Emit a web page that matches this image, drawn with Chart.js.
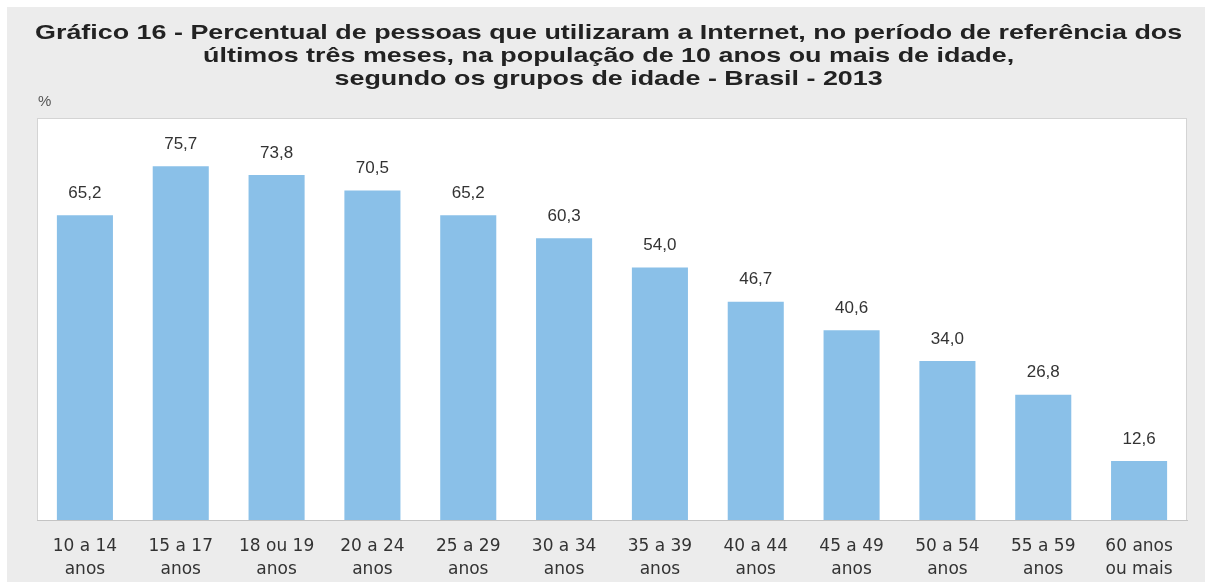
<!DOCTYPE html>
<html>
<head>
<meta charset="utf-8">
<script src="https://cdn.jsdelivr.net/npm/chart.js@4/dist/chart.umd.min.js"></script>
<style>
  html, body { margin:0; padding:0; background:#ffffff; }
  #wrap { position:relative; width:1214px; height:582px; overflow:hidden; }
  #c { position:absolute; left:0; top:0; }
  #title { position:absolute; left:12px; top:20px; width:1200px; text-align:center;
    font-family:"Liberation Sans", Arial, sans-serif; font-weight:bold; font-size:21px;
    line-height:23px; color:#222222; transform:scaleX(1.28); transform-origin:612px 0; }
  #title div { white-space:nowrap; }
  #unit { position:absolute; left:38px; top:92px; font-family:"Liberation Sans", Arial, sans-serif;
    font-size:15px; color:#555; }
</style>
</head>
<body>
<div id="wrap">
  <canvas id="c" width="1214" height="582"></canvas>
  <div id="title"><div>Gráfico 16 - Percentual de pessoas que utilizaram a Internet, no período de referência dos</div><div>últimos três meses, na população de 10 anos ou mais de idade,</div><div>segundo os grupos de idade - Brasil - 2013</div></div>
  <div id="unit">%</div>
</div>
<script>
const categories = [
  ["10 a 14","anos"], ["15 a 17","anos"], ["18 ou 19","anos"], ["20 a 24","anos"],
  ["25 a 29","anos"], ["30 a 34","anos"], ["35 a 39","anos"], ["40 a 44","anos"],
  ["45 a 49","anos"], ["50 a 54","anos"], ["55 a 59","anos"], ["60 anos","ou mais"]
];
const values = [65.2, 75.7, 73.8, 70.5, 65.2, 60.3, 54.0, 46.7, 40.6, 34.0, 26.8, 12.6];

const panelPlugin = {
  id: 'panel',
  beforeDraw(chart) {
    const ctx = chart.ctx, a = chart.chartArea;
    ctx.save();
    ctx.fillStyle = '#ffffff';
    ctx.fillRect(0, 0, chart.width, chart.height);
    ctx.fillStyle = '#ececec';
    ctx.fillRect(7, 7, 1198, chart.height - 7);
    ctx.fillStyle = '#ffffff';
    ctx.fillRect(a.left, a.top, a.right - a.left, a.bottom - a.top);
    ctx.strokeStyle = '#d4d4d4';
    ctx.lineWidth = 1;
    ctx.strokeRect(a.left + 0.5, a.top + 0.5, a.right - a.left - 1, a.bottom - a.top);
    ctx.restore();
  }
};

const labelPlugin = {
  id: 'valueLabels',
  afterDatasetsDraw(chart) {
    const ctx = chart.ctx;
    const meta = chart.getDatasetMeta(0);
    ctx.save();
    ctx.font = '17px "Liberation Sans", Arial, sans-serif';
    ctx.fillStyle = '#333333';
    ctx.textAlign = 'center';
    ctx.textBaseline = 'middle';
    meta.data.forEach((bar, i) => {
      const v = chart.data.datasets[0].data[i];
      ctx.fillText(v.toFixed(1).replace('.', ','), bar.x, bar.y - 22);
    });
    ctx.restore();
  }
};

new Chart(document.getElementById('c'), {
  type: 'bar',
  data: {
    labels: categories,
    datasets: [{
      data: values,
      backgroundColor: '#8ac0e8',
      borderWidth: 0,
      categoryPercentage: 1,
      barPercentage: 0.585
    }]
  },
  options: {
    responsive: false,
    animation: false,
    layout: { padding: { left: 37, right: 27, top: 118, bottom: 0 } },
    plugins: { legend: { display: false }, title: { display: false }, tooltip: { enabled: false } },
    scales: {
      x: {
        grid: { display: false, drawTicks: false },
        border: { display: true, color: '#c4c4c4', width: 1 },
        ticks: { color: '#333333', font: { size: 17, family: '"DejaVu Sans", sans-serif', lineHeight: '23px' }, padding: 15, maxRotation: 0, autoSkip: false },
        afterFit(scale) { scale.height = 62; }
      },
      y: {
        display: false,
        min: 0,
        max: 86
      }
    }
  },
  plugins: [panelPlugin, labelPlugin]
});
</script>
</body>
</html>
